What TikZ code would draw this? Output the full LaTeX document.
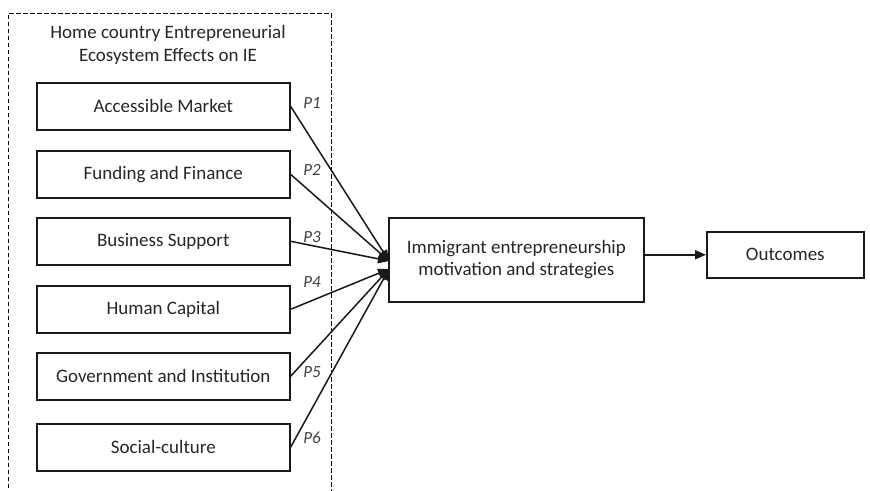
\documentclass[tikz,border=0pt]{standalone}
\usepackage{fontspec}
\setmainfont{Carlito}
\usetikzlibrary{arrows.meta}
\begin{document}
\begin{tikzpicture}[x=1pt,y=-1pt,
  factor/.style={draw=black!90,line width=1.6pt,minimum width=253pt,minimum height=47pt,inner sep=0pt,font=\fontsize{19}{22}\selectfont,text=black!85,anchor=north west},
  bigbox/.style={draw=black!90,line width=1.6pt,inner sep=0pt,font=\fontsize{19}{22}\selectfont,text=black!85,align=center,anchor=north west},
  plab/.style={font=\fontsize{17}{18}\selectfont\itshape,text=black!75},
  arr/.style={line width=1.5pt,draw=black!90,-{Triangle[length=11pt,width=9pt]}}]
\useasboundingbox (0,0) rectangle (870,490);
\draw[line width=1pt,dash pattern=on 4.5pt off 2.5pt] (8,495) -- (8,13) -- (331,13) -- (331,495);
\node[font=\fontsize{19}{23}\selectfont,text=black!85,align=center] (title) at (168,45) {Home country Entrepreneurial\\Ecosystem Effects on IE};
\node[factor] (f1) at (36,82) {Accessible Market};
\node[factor] (f2) at (36,150) {Funding and Finance};
\node[factor] (f3) at (36,217) {Business Support};
\node[factor] (f4) at (36,285) {Human Capital};
\node[factor] (f5) at (36,352) {Government and Institution};
\node[factor] (f6) at (36,423) {Social-culture};
\node[bigbox,minimum width=255pt,minimum height=84pt] (mid) at (388,217) {Immigrant entrepreneurship\\motivation and strategies};
\node[bigbox,minimum width=157pt,minimum height=46pt] (out) at (706,231) {Outcomes};
\coordinate (u) at (389,261);
\coordinate (l) at (389,269);
\draw[arr] (f1.east) -- (u);
\draw[arr] (f2.east) -- (u);
\draw[arr] (f3.east) -- (u);
\draw[arr] (f4.east) -- (l);
\draw[arr] (f5.east) -- (l);
\draw[arr] (f6.east) -- (l);
\draw[arr] (mid.east |- out.west) -- (out.west);
\node[plab] (p1) at (312,103) {P1};
\node[plab] (p2) at (312,170) {P2};
\node[plab] (p3) at (312,237) {P3};
\node[plab] (p4) at (312,282) {P4};
\node[plab] (p5) at (312,372) {P5};
\node[plab] (p6) at (312,438) {P6};
\end{tikzpicture}
\end{document}
